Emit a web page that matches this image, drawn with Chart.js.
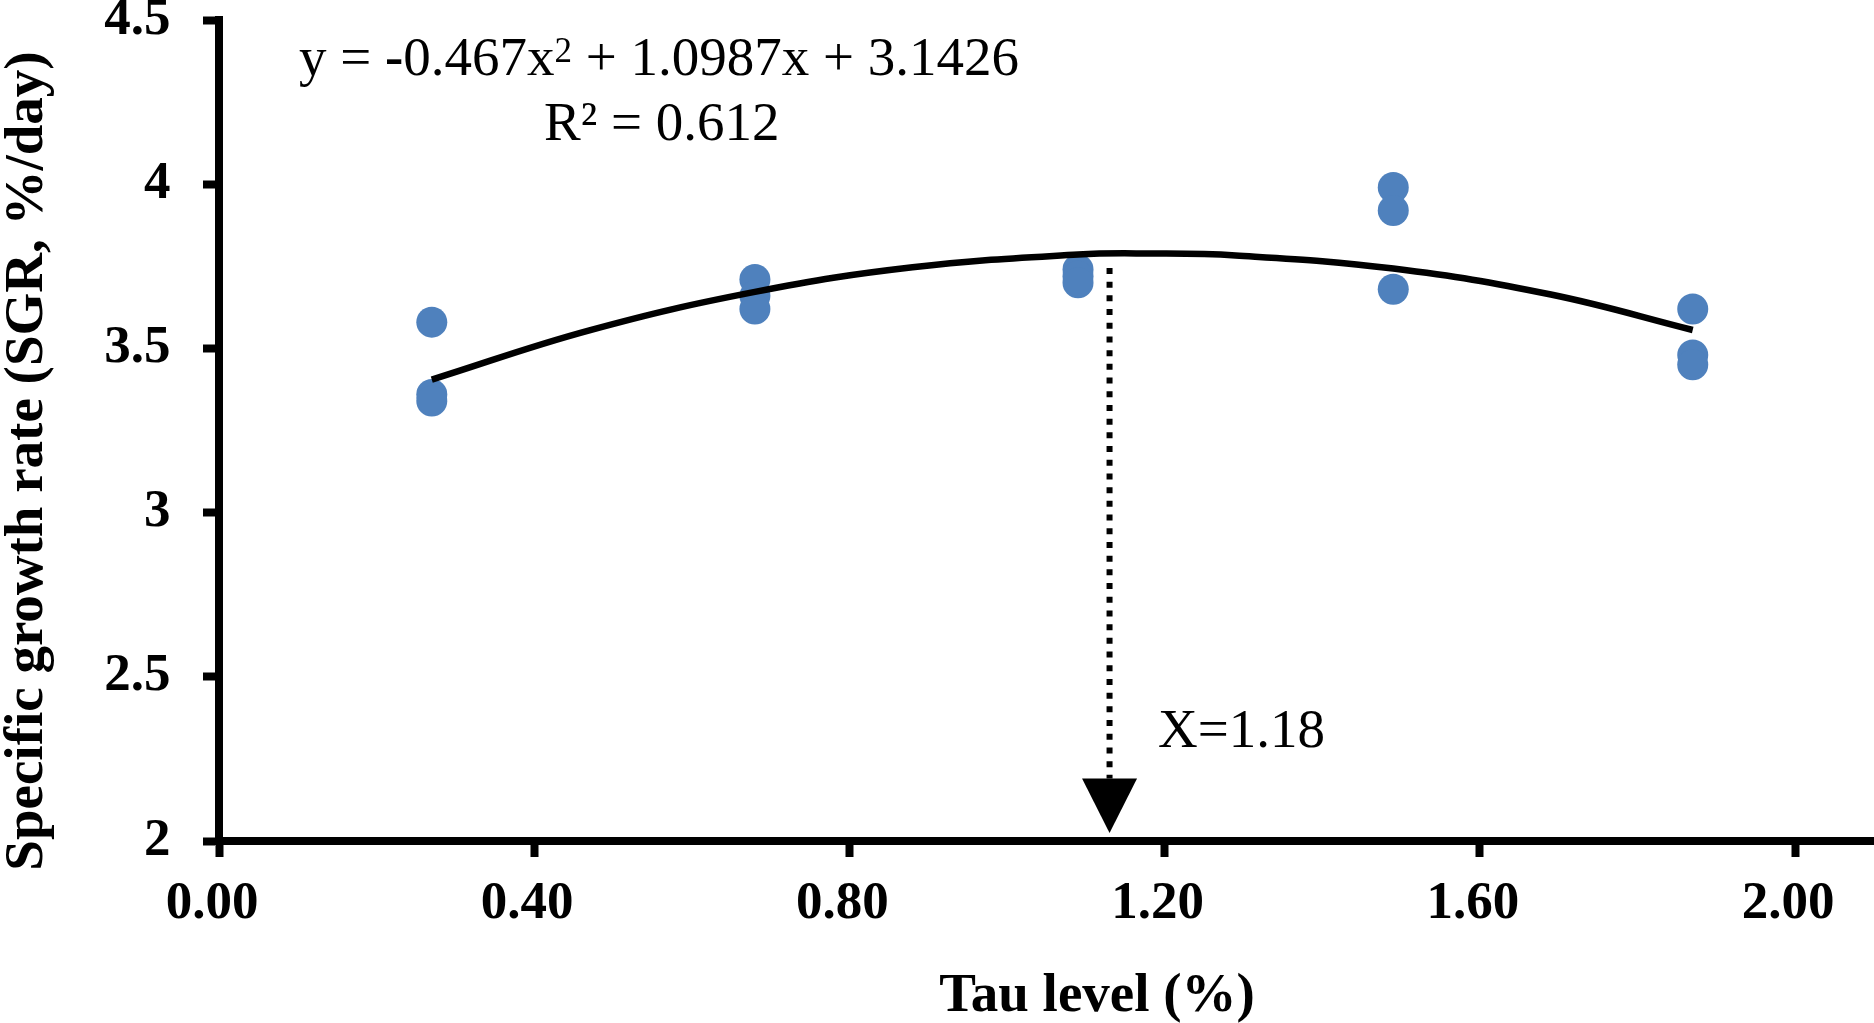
<!DOCTYPE html>
<html><head><meta charset="utf-8">
<script src="https://cdn.jsdelivr.net/npm/chart.js@4.4.1/dist/chart.umd.min.js"></script>
<style>html,body{margin:0;padding:0;background:#fff;} canvas{display:block;}</style>
</head><body>
<canvas id="c" width="1874" height="1023"></canvas>
<script>
// ---- data ----
const tauLevels = [0.27, 0.68, 1.09, 1.49, 1.87];
const sgrRep1 = [3.58, 3.71, 3.74, 3.99, 3.62];
const sgrRep2 = [3.36, 3.66, 3.72, 3.92, 3.48];
const sgrRep3 = [3.34, 3.62, 3.70, 3.68, 3.45];
const trendX = [0.27, 0.47, 0.68, 0.88, 1.09, 1.18, 1.29, 1.49, 1.69, 1.87];
const trendY = [3.405, 3.555, 3.672, 3.747, 3.786, 3.789, 3.783, 3.743, 3.664, 3.556];
const xTickValues = [0, 0.4, 0.8, 1.2, 1.6, 2.0];
const xTickLabels = ['0.00', '0.40', '0.80', '1.20', '1.60', '2.00'];
const yTickValues = [2, 2.5, 3, 3.5, 4, 4.5];
const yTickLabels = ['2', '2.5', '3', '3.5', '4', '4.5'];
const xAxisTitle = 'Tau level (%)';
const yAxisTitle = 'Specific growth rate (SGR, %/day)';
const equationParts = ['y = ', '-', '0.467x', '2', ' + 1.0987x + 3.1426'];
const r2Text = 'R² = 0.612';
const optimumText = 'X=1.18';
const arrowX = [1.13, 1.13];
const arrowY = [3.745, 2.19];
const arrowTipY = 2.024;

const scatterPts = [];
[sgrRep1, sgrRep2, sgrRep3].forEach(rep => rep.forEach((v, i) => scatterPts.push({x: tauLevels[i], y: v})));
const trendPts = trendX.map((x, i) => ({x, y: trendY[i]}));
const arrowPts = arrowX.map((x, i) => ({x, y: arrowY[i]}));

const SERIF = '"Liberation Serif", "Times New Roman", serif';

const annotPlugin = {
  id: 'annot',
  afterDraw(chart) {
    const ctx = chart.ctx;
    const xs = chart.scales.x, ys = chart.scales.y;
    ctx.save();
    // arrow head
    const px = xs.getPixelForValue(arrowX[1]);
    const top = ys.getPixelForValue(arrowY[1]);
    const tip = ys.getPixelForValue(arrowTipY);
    ctx.fillStyle = '#000';
    ctx.beginPath();
    ctx.moveTo(px - 27.5, top);
    ctx.lineTo(px + 27.5, top);
    ctx.lineTo(px, tip);
    ctx.closePath();
    ctx.fill();

    // equation
    ctx.fillStyle = '#000';
    ctx.textBaseline = 'alphabetic';
    ctx.textAlign = 'left';
    let x = 299;
    const base = 75;
    const fonts = ['55px ' + SERIF, 'bold 55px ' + SERIF, '55px ' + SERIF, '35px ' + SERIF, '55px ' + SERIF];
    const offs = [0, 0, 0, -13, 0];
    equationParts.forEach((t, i) => {
      ctx.font = fonts[i];
      ctx.fillText(t, x, base + offs[i]);
      x += ctx.measureText(t).width;
    });
    ctx.font = '55px ' + SERIF;
    ctx.fillText(r2Text, 544, 140);
    ctx.fillText(optimumText, 1158, 747);

    // axis titles
    ctx.font = 'bold 55px ' + SERIF;
    ctx.textAlign = 'center';
    ctx.fillText(xAxisTitle, 1097, 1011);
    ctx.translate(42, 461);
    ctx.rotate(-Math.PI / 2);
    ctx.fillText(yAxisTitle, 0, 0);
    ctx.restore();
  }
};

const bgPlugin = {
  id: 'bg',
  beforeDraw(chart) {
    const ctx = chart.ctx;
    ctx.save();
    ctx.fillStyle = '#fff';
    ctx.fillRect(0, 0, chart.width, chart.height);
    ctx.restore();
  }
};

new Chart(document.getElementById('c'), {
  type: 'scatter',
  data: {
    datasets: [
      {
        type: 'line', label: 'Poly. trend', data: trendPts, order: 0,
        borderColor: '#000', borderWidth: 6.5, tension: 0.4, pointRadius: 0, fill: false,
        borderCapStyle: 'butt'
      },
      {
        type: 'line', label: 'Optimum', data: arrowPts, order: 2,
        borderColor: '#000', borderWidth: 6, borderDash: [6, 7.7], pointRadius: 0, fill: false,
        borderCapStyle: 'butt'
      },
      {
        label: 'SGR', data: scatterPts, order: 1,
        backgroundColor: '#4F81BD', borderColor: '#4F81BD', borderWidth: 0,
        pointRadius: 15.5, pointHoverRadius: 15.5
      }
    ]
  },
  options: {
    responsive: false,
    animation: false,
    devicePixelRatio: 1,
    layout: { autoPadding: false, padding: { top: 20, right: 0, bottom: 0, left: 0 } },
    plugins: { legend: { display: false }, tooltip: { enabled: false }, title: { display: false } },
    scales: {
      x: {
        type: 'linear', min: 0, max: 2.1,
        afterBuildTicks: s => { s.ticks = xTickValues.map(v => ({value: v})); },
        afterFit: s => { s.height = 182; s.paddingLeft = 0; s.paddingRight = 0; },
        ticks: {
          callback: (v, i) => xTickLabels[i],
          font: { family: SERIF, size: 53, weight: 'bold' }, color: '#000', padding: 16,
          maxRotation: 0, autoSkip: false, labelOffset: -7
        },
        grid: { display: true, drawOnChartArea: false, drawTicks: true, tickLength: 16, tickWidth: 8, tickColor: '#000', color: '#000' },
        border: { display: true, color: '#000', width: 8 },
        title: { display: false }
      },
      y: {
        type: 'linear', min: 2, max: 4.5,
        afterBuildTicks: s => { s.ticks = yTickValues.map(v => ({value: v})); },
        afterFit: s => { s.width = 219; s.paddingTop = 0; s.paddingBottom = 0; },
        ticks: {
          callback: (v, i) => yTickLabels[i],
          font: { family: SERIF, size: 53, weight: 'bold' }, color: '#000', padding: 32.5,
          autoSkip: false
        },
        grid: { display: true, drawOnChartArea: false, drawTicks: true, tickLength: 16, tickWidth: 8, tickColor: '#000', color: '#000' },
        border: { display: true, color: '#000', width: 8 },
        title: { display: false }
      }
    }
  },
  plugins: [bgPlugin, annotPlugin]
});
</script>
</body></html>
